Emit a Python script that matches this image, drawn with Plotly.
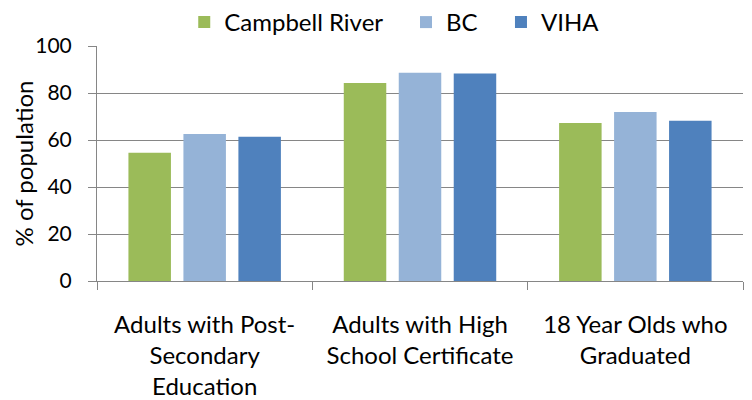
import plotly.graph_objects as go

categories = ["Adults with Post-<br>Secondary<br>Education",
              "Adults with High<br>School Certificate",
              "18 Year Olds who<br>Graduated"]
series_names = ["Campbell River", "BC", "VIHA"]
campbell_river = [54.6, 84.3, 67.2]
bc = [62.6, 88.6, 71.9]
viha = [61.4, 88.3, 68.2]
colors = ["#9BBB59", "#95B3D7", "#4F81BD"]
y_title = "% of population"

FONT = "Lato"
PAD = "\u00a0" * 3
fig = go.Figure()
for i, (name, vals, c) in enumerate(zip(series_names, [campbell_river, bc, viha], colors)):
    label = name + (PAD if i < len(series_names) - 1 else "")
    fig.add_trace(go.Bar(x=categories, y=vals, name=label, marker_color=c,
                         marker_line_width=0))

fig.update_layout(
    width=752, height=400,
    margin=dict(l=97, r=9, t=46, b=119, autoexpand=False),
    paper_bgcolor="white", plot_bgcolor="white",
    barmode="group", bargap=0.234, bargroupgap=0.227,
    font=dict(family=FONT, size=22, color="black"),
    legend=dict(orientation="h", xref="container", yref="container",
                x=0.245, y=1.0, xanchor="left", yanchor="top",
                font=dict(size=24), itemwidth=30, traceorder="normal"),
    showlegend=True,
)
fig.add_annotation(text=y_title, textangle=-90, xref="paper", yref="paper",
                   x=(23 - 97) / 646, y=0.5, xanchor="center", yanchor="middle",
                   showarrow=False, font=dict(size=24))
fig.update_yaxes(range=[0, 100], dtick=20, showgrid=True, gridcolor="#868686",
                 gridwidth=1, showline=True, linecolor="#868686", linewidth=1,
                 ticks="outside", ticklen=8, tickcolor="#868686",
                 ticklabelstandoff=12, tickfont=dict(size=21), zeroline=False)
fig.update_xaxes(showline=True, linecolor="#868686", linewidth=1,
                 ticks="outside", ticklen=8, tickcolor="#868686",
                 tickson="boundaries", tickfont=dict(size=24),
                 ticklabelstandoff=22, mirror=False)

fig.write_html("out.html", config={"displayModeBar": False},
               post_script="document.body.style.margin='0';document.body.style.padding='0';")
